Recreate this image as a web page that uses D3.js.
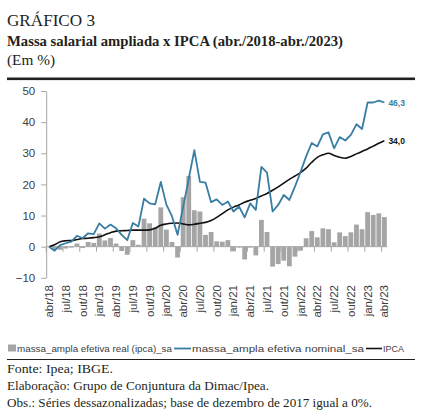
<!DOCTYPE html>
<html>
<head>
<meta charset="utf-8">
<script src="https://cdn.jsdelivr.net/npm/d3@7"></script>
<style>
  body { margin: 0; background: #fff; }
  svg { display: block; }
</style>
</head>
<body>
<div id="chart"></div>
<script>
// months abr/18 .. abr/23
const monthNames = ["jan", "fev", "mar", "abr", "mai", "jun", "jul", "ago", "set", "out", "nov", "dez"];
const months = [];
for (let k = 0; k < 61; k++) {
    const m = (3 + k) % 12;
    const yy = 18 + Math.floor((3 + k) / 12);
    months.push(monthNames[m] + "/" + yy);
}

// massa_ampla efetiva real (ipca)_sa - bars
const realSa = [
    0.0, -0.8, -1.0, -0.6, -0.3, 1.0, -0.4, 1.5, 1.2, 4.2,
    2.0, 2.8, 1.0, -1.4, -2.6, 2.1, 0.6, 9.0, 7.5, 6.2,
    12.6, 5.5, 1.5, -3.5, 15.9, 22.7, 11.7, 11.3, 3.8, 4.7,
    1.7, 1.6, 2.1, -1.5, -0.3, -4.1, -0.3, -2.8, 8.6, 4.7,
    -6.4, -5.6, -4.5, -6.3, -3.2, -1.3, 2.7, 5.0, 3.0, 5.9,
    5.6, 1.4, 4.6, 3.4, 4.6, 7.1, 5.6, 11.1, 10.2, 10.7,
    9.5
];

// massa_ampla efetiva nominal_sa - blue line
const nominalSa = [
    0.0, -1.3, 0.5, 1.1, 1.6, 3.5, 2.7, 4.3, 4.0, 7.5,
    5.8, 7.1, 5.9, 3.8, 2.1, 7.6, 6.5, 15.4, 13.9, 13.6,
    20.8, 13.5, 9.8, 3.8, 12.8, 21.8, 31.0, 20.8, 20.6, 14.3,
    15.2, 13.4, 14.5, 11.3, 12.9, 9.4, 13.9, 11.8, 25.6, 23.8,
    11.3, 13.4, 16.6, 15.0, 19.3, 24.0, 29.0, 33.3, 32.2, 36.1,
    36.7, 31.6, 35.2, 34.1, 35.9, 39.3, 37.8, 46.3, 46.3, 46.9,
    46.3
];

// IPCA - black line
const ipca = [
    0.0, 0.6, 1.6, 1.9, 2.0, 2.3, 2.6, 2.7, 2.9, 3.2,
    3.8, 4.5, 5.0, 5.1, 5.2, 5.3, 5.3, 5.3, 5.4, 5.9,
    6.9, 7.3, 7.5, 7.6, 7.3, 7.0, 7.2, 7.5, 7.8, 8.4,
    9.4, 10.6, 11.8, 12.7, 13.4, 14.3, 14.9, 15.5, 16.3, 17.1,
    18.1, 19.2, 20.4, 21.6, 22.7, 23.8, 25.2, 27.1, 28.7, 29.5,
    30.0, 29.3, 28.7, 28.4, 29.0, 29.8, 30.6, 31.4, 32.3, 33.2,
    34.0
];

const yTicks = [-10, 0, 10, 20, 30, 40, 50];
const xTickLabels = months.filter((d, i) => i % 3 === 0);

const W = 422, H = 418;
const svg = d3.select("#chart").append("svg")
    .attr("width", W)
    .attr("height", H);

const serif = "'Liberation Serif', 'DejaVu Serif', serif";
const sans = "'Liberation Sans', Arial, sans-serif";

// header
svg.append("text").attr("x", 7).attr("y", 26)
    .attr("font-family", serif).attr("font-size", 16).attr("fill", "#231f20")
    .attr("textLength", 88).attr("lengthAdjust", "spacingAndGlyphs")
    .text("GRÁFICO 3");
svg.append("text").attr("x", 7).attr("y", 46)
    .attr("font-family", serif).attr("font-size", 15).attr("font-weight", "bold").attr("fill", "#231f20")
    .attr("textLength", 336).attr("lengthAdjust", "spacingAndGlyphs")
    .text("Massa salarial ampliada x IPCA (abr./2018-abr./2023)");
svg.append("text").attr("x", 7).attr("y", 65)
    .attr("font-family", serif).attr("font-size", 15).attr("fill", "#231f20")
    .attr("textLength", 48).attr("lengthAdjust", "spacingAndGlyphs")
    .text("(Em %)");
svg.append("rect").attr("x", 7).attr("y", 77.5).attr("width", 408).attr("height", 2.6).attr("fill", "#231f20");

// scales
const x = d3.scaleBand()
    .domain(months)
    .range([46.2, 46.2 + 61 * 5.59])
    .paddingInner(0.14)
    .paddingOuter(0.07);

const y = d3.scaleLinear()
    .domain([-10, 50])
    .range([277.8, 91]);

const cx = d => x(d) + x.bandwidth() / 2;

// bars
svg.append("g")
    .selectAll("rect")
    .data(realSa)
    .enter()
    .append("rect")
    .attr("x", (d, i) => x(months[i]))
    .attr("y", d => y(Math.max(0, d)))
    .attr("width", x.bandwidth())
    .attr("height", d => Math.abs(y(d) - y(0)))
    .attr("fill", "#a5a5a5");

// x axis at zero, ticks on left edge of labelled months
const xAxisG = svg.append("g").attr("class", "x-axis");
xAxisG.append("line")
    .attr("x1", 46.2).attr("x2", 46.2 + 61 * 5.59)
    .attr("y1", y(0)).attr("y2", y(0))
    .attr("stroke", "#a6a6a6").attr("stroke-width", 1);
const step = x.step();
xAxisG.selectAll(".tk")
    .data(xTickLabels)
    .enter()
    .append("line")
    .attr("x1", d => cx(d) - step / 2).attr("x2", d => cx(d) - step / 2)
    .attr("y1", y(0)).attr("y2", y(0) + 5)
    .attr("stroke", "#a6a6a6");
xAxisG.selectAll(".lbl")
    .data(xTickLabels)
    .enter()
    .append("text")
    .attr("transform", d => `translate(${cx(d) + 4},285) rotate(-90)`)
    .attr("text-anchor", "end")
    .attr("font-family", sans)
    .attr("font-size", 11.5)
    .attr("fill", "#404040")
    .text(d => d);

// y axis
const yAxis = svg.append("g")
    .attr("class", "y-axis")
    .attr("transform", "translate(46.2,0)")
    .call(d3.axisLeft(y).tickValues(yTicks).tickSize(5).tickSizeOuter(0).tickPadding(6));
yAxis.select(".domain").attr("stroke", "#a6a6a6");
yAxis.selectAll(".tick line").attr("stroke", "#a6a6a6");
yAxis.selectAll(".tick text")
    .attr("font-family", sans)
    .attr("font-size", 11.5)
    .attr("fill", "#404040");

// lines
const line = d3.line()
    .x((d, i) => cx(months[i]))
    .y(d => y(d));

svg.append("path")
    .datum(ipca)
    .attr("fill", "none")
    .attr("stroke", "#111")
    .attr("stroke-width", 1.6)
    .attr("d", line.curve(d3.curveMonotoneX));

svg.append("path")
    .datum(nominalSa)
    .attr("fill", "none")
    .attr("stroke", "#387ea3")
    .attr("stroke-width", 1.8)
    .attr("stroke-linejoin", "round")
    .attr("d", line.curve(d3.curveLinear));

// end labels
const last = months.length - 1;
svg.append("text")
    .attr("x", cx(months[last]) + 4).attr("y", y(nominalSa[last]) + 3)
    .attr("font-family", sans).attr("font-size", 8.5).attr("font-weight", "bold")
    .attr("fill", "#387ea3")
    .text(String(nominalSa[last].toFixed(1)).replace(".", ","));
svg.append("text")
    .attr("x", cx(months[last]) + 4).attr("y", y(ipca[last]) + 3)
    .attr("font-family", sans).attr("font-size", 8.5).attr("font-weight", "bold")
    .attr("fill", "#111")
    .text(String(ipca[last].toFixed(1)).replace(".", ","));

// legend
const legend = svg.append("g").attr("font-family", sans).attr("font-size", 9.5).attr("fill", "#404040");
legend.append("rect").attr("x", 8).attr("y", 344.5).attr("width", 8).attr("height", 7).attr("fill", "#a5a5a5");
legend.append("text").attr("x", 17).attr("y", 352)
    .attr("textLength", 155).attr("lengthAdjust", "spacingAndGlyphs")
    .text("massa_ampla efetiva real (ipca)_sa");
legend.append("line").attr("x1", 174).attr("x2", 191).attr("y1", 348.5).attr("y2", 348.5)
    .attr("stroke", "#387ea3").attr("stroke-width", 1.8);
legend.append("text").attr("x", 192).attr("y", 352)
    .attr("textLength", 172).attr("lengthAdjust", "spacingAndGlyphs")
    .text("massa_ampla efetiva nominal_sa");
legend.append("line").attr("x1", 366).attr("x2", 382).attr("y1", 348.5).attr("y2", 348.5)
    .attr("stroke", "#111").attr("stroke-width", 1.6);
legend.append("text").attr("x", 383).attr("y", 352)
    .attr("textLength", 21).attr("lengthAdjust", "spacingAndGlyphs")
    .text("IPCA");

// footer
svg.append("rect").attr("x", 7).attr("y", 359).attr("width", 408).attr("height", 1).attr("fill", "#231f20");
const foot = svg.append("g").attr("font-family", serif).attr("font-size", 12.5).attr("fill", "#231f20");
foot.append("text").attr("x", 7).attr("y", 373)
    .attr("textLength", 106).attr("lengthAdjust", "spacingAndGlyphs")
    .text("Fonte: Ipea; IBGE.");
foot.append("text").attr("x", 7).attr("y", 390)
    .attr("textLength", 262).attr("lengthAdjust", "spacingAndGlyphs")
    .text("Elaboração: Grupo de Conjuntura da Dimac/Ipea.");
foot.append("text").attr("x", 7).attr("y", 407)
    .attr("textLength", 365).attr("lengthAdjust", "spacingAndGlyphs")
    .text("Obs.: Séries dessazonalizadas; base de dezembro de 2017 igual a 0%.");
</script>
</body>
</html>
